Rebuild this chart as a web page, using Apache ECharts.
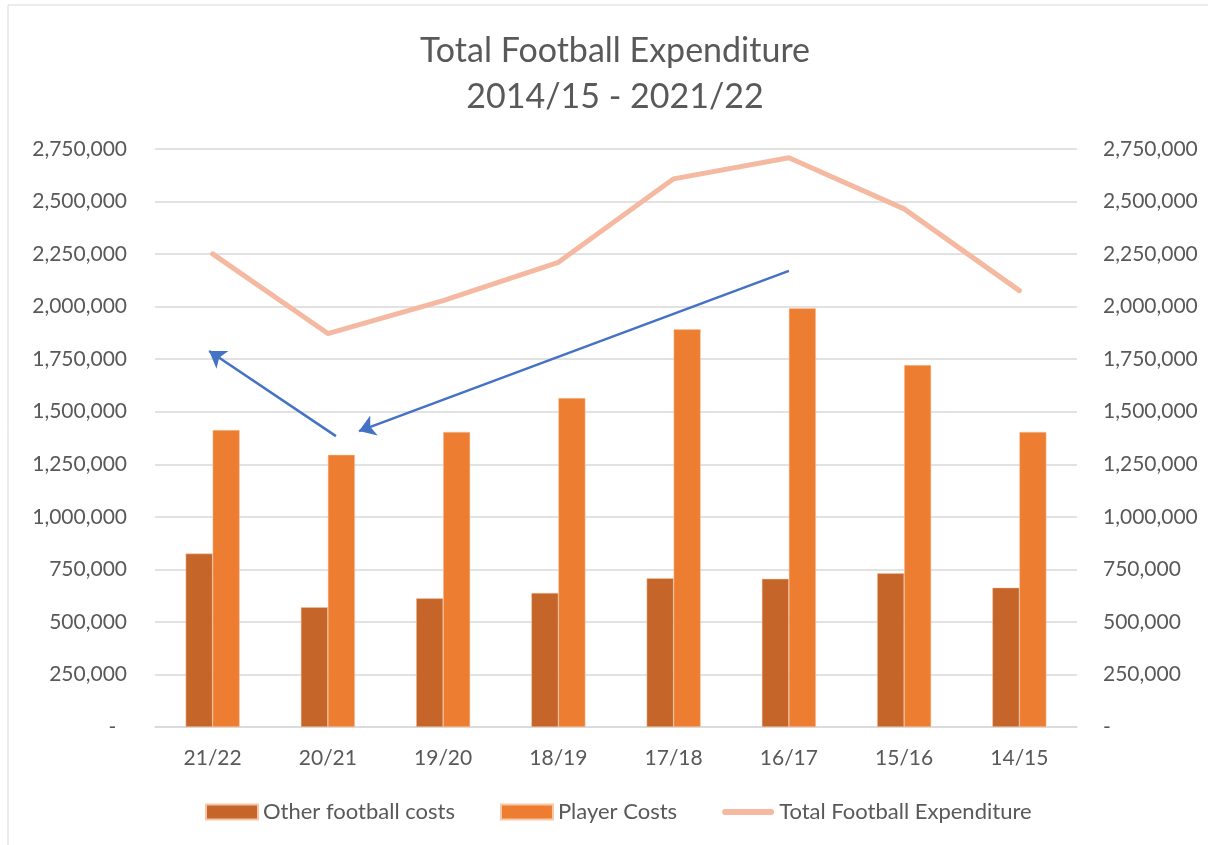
<!DOCTYPE html>
<html>
<head>
<meta charset="utf-8">
<script src="https://cdn.jsdelivr.net/npm/echarts@6/dist/echarts.min.js"></script>
<style>
    html, body { margin: 0; padding: 0; background: #fff; }
    #main { width: 1208px; height: 845px; }
</style>
</head>
<body>
<div id="main"></div>
<script>
    var seasons = ['21/22', '20/21', '19/20', '18/19', '17/18', '16/17', '15/16', '14/15'];
    var otherCosts = [825000, 570000, 612000, 638000, 708000, 705000, 732000, 663000];
    var playerCosts = [1413000, 1295000, 1404000, 1565000, 1892000, 1992000, 1722000, 1404000];
    var totalSpend = [2251000, 1872000, 2029000, 2211000, 2608000, 2708000, 2465000, 2076000];
    // annotation arrows: [category position, value] -> [category position, value]
    var arrows = [
        [[1.07, 1384000], [-0.03, 1789000]],
        [[5.0, 2170000], [1.27, 1408000]]
    ];

    var font = 'Lato, "Open Sans", sans-serif';
    var grey = '#595959';

    function fmt(v, pad) {
        if (v === 0) return pad ? '-  ' : '-';
        return v.toLocaleString('en-US');
    }

    var myChart = echarts.init(document.getElementById('main'));
    var option = {
        animation: false,
        title: {
            text: 'Total Football Expenditure\n2014/15 - 2021/22',
            left: 610,
            top: 23,
            textAlign: 'center',
            textStyle: {
                fontFamily: font,
                fontSize: 34,
                fontWeight: 'normal',
                color: grey,
                lineHeight: 46
            }
        },
        legend: {
            bottom: 17,
            left: 200,
            itemGap: 45,
            itemWidth: 52,
            itemHeight: 15,
            textStyle: { fontFamily: font, fontSize: 22, color: grey },
            data: [
                { name: 'Other football costs', icon: 'rect' },
                { name: 'Player Costs', icon: 'rect' },
                { name: 'Total Football Expenditure',
                  icon: 'path://M3,0 L49,0 A3,3 0 0 1 49,6 L3,6 A3,3 0 0 1 3,0 Z' }
            ]
        },
        graphic: [{
            type: 'rect',
            shape: { x: 8, y: 5, width: 1230, height: 880 },
            style: { fill: 'none', stroke: '#d9d9d9', lineWidth: 1 },
            silent: true
        }],
        grid: { left: 155, right: 131, top: 149, bottom: 118, containLabel: false },
        xAxis: [{
            type: 'category',
            data: seasons,
            axisTick: { show: false },
            axisLine: { lineStyle: { color: '#d9d9d9', width: 1.5 } },
            axisLabel: { fontFamily: font, fontSize: 21, color: grey, margin: 21 }
        }, {
            type: 'value',
            min: -0.5,
            max: 7.5,
            show: false
        }],
        yAxis: [{
            type: 'value',
            min: 0,
            max: 2750000,
            interval: 250000,
            axisLine: { show: false },
            axisTick: { show: false },
            splitLine: { lineStyle: { color: '#d9d9d9', width: 1.5 } },
            axisLabel: {
                fontFamily: font, fontSize: 21, color: grey, margin: 28,
                formatter: function (v) { return fmt(v, true); }
            }
        }, {
            type: 'value',
            min: 0,
            max: 2750000,
            interval: 250000,
            position: 'right',
            axisLine: { show: false },
            axisTick: { show: false },
            splitLine: { show: false },
            axisLabel: {
                fontFamily: font, fontSize: 21, color: grey, margin: 26,
                formatter: function (v) { return fmt(v, false); }
            }
        }],
        series: [{
            name: 'Other football costs',
            type: 'bar',
            data: otherCosts,
            barWidth: 27,
            barGap: '0%',
            itemStyle: { color: '#C5652A', borderColor: '#f3c6a6', borderWidth: 0.5 }
        }, {
            name: 'Player Costs',
            type: 'bar',
            data: playerCosts,
            barWidth: 27,
            itemStyle: { color: '#ED7D31', borderColor: '#f7c9a8', borderWidth: 0.5 }
        }, {
            name: 'Total Football Expenditure',
            type: 'line',
            data: totalSpend,
            yAxisIndex: 1,
            symbol: 'none',
            lineStyle: { color: '#F4B9A0', width: 5, cap: 'round', join: 'round' },
            itemStyle: { color: '#F4B9A0' }
        }, {
            type: 'lines',
            coordinateSystem: 'cartesian2d',
            xAxisIndex: 1,
            yAxisIndex: 0,
            silent: true,
            symbol: ['none', 'arrow'],
            symbolSize: 16,
            lineStyle: { color: '#4472C4', width: 2.5, opacity: 1, curveness: 0 },
            data: arrows.map(function (a) { return { coords: a }; })
        }]
    };
    myChart.setOption(option);
</script>
</body>
</html>
